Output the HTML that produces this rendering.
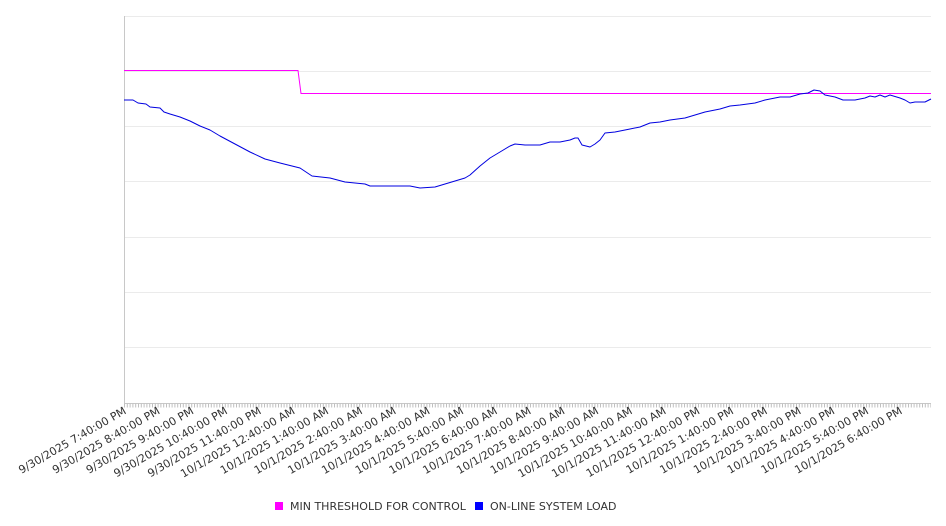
<!DOCTYPE html>
<html><head><meta charset="utf-8"><style>
html,body{margin:0;padding:0;background:#fff;}
svg{display:block;font-family:"DejaVu Sans","Liberation Sans",sans-serif;}
</style></head><body>
<svg width="946" height="526" viewBox="0 0 946 526" xmlns="http://www.w3.org/2000/svg">
<g stroke="#ebebeb" stroke-width="1">
<line x1="124" y1="16.5" x2="931" y2="16.5"/>
<line x1="124" y1="71.5" x2="931" y2="71.5"/>
<line x1="124" y1="126.5" x2="931" y2="126.5"/>
<line x1="124" y1="181.5" x2="931" y2="181.5"/>
<line x1="124" y1="237.5" x2="931" y2="237.5"/>
<line x1="124" y1="292.5" x2="931" y2="292.5"/>
<line x1="124" y1="347.5" x2="931" y2="347.5"/>
</g>
<line x1="124.5" y1="16" x2="124.5" y2="404" stroke="#c8c8c8"/>
<line x1="124" y1="403.5" x2="931" y2="403.5" stroke="#c8c8c8"/>
<line x1="124" y1="405.5" x2="931" y2="405.5" stroke="#c0c0c0" stroke-width="4" stroke-dasharray="1 1.8"/>
<polyline fill="none" stroke="#ff00ff" stroke-width="1" points="124,70.5 298,70.5 301,93.5 931,93.5"/>
<polyline fill="none" stroke="#0000e0" stroke-width="1" stroke-linejoin="round" points="124,100 133,100 138,103 146,104 150,107 160,108 164,112 170,114 180,117 190,121 200,126 210,130 220,136 235,144 250,152 265,159 280,163 300,168 312,176 330,178 345,182 365,184 370,186 390,186 410,186 420,188 435,187 445,184 455,181 465,178 470,175 480,166 490,158 500,152 510,146 515,144 525,145 540,145 550,142 560,142 570,140 575,138 578,138 582,145 590,147 595,144 600,140 605,133 615,132 630,129 640,127 650,123 660,122 670,120 685,118 695,115 705,112 720,109 730,106 740,105 755,103 765,100 780,97 790,97 800,94 808,93 814,90 820,91 825,95 835,97 843,100 855,100 865,98 870,96 875,97 880,95 885,97 890,95 900,98 905,100 910,103 915,102 925,102 931,99"/>
<g font-size="11" fill="#333" text-anchor="end">
<text transform="translate(127,413) rotate(-30)">9/30/2025 7:40:00 PM</text>
<text transform="translate(160.7,413) rotate(-30)">9/30/2025 8:40:00 PM</text>
<text transform="translate(194.5,413) rotate(-30)">9/30/2025 9:40:00 PM</text>
<text transform="translate(228.2,413) rotate(-30)">9/30/2025 10:40:00 PM</text>
<text transform="translate(262,413) rotate(-30)">9/30/2025 11:40:00 PM</text>
<text transform="translate(295.7,413) rotate(-30)">10/1/2025 12:40:00 AM</text>
<text transform="translate(329.4,413) rotate(-30)">10/1/2025 1:40:00 AM</text>
<text transform="translate(363.2,413) rotate(-30)">10/1/2025 2:40:00 AM</text>
<text transform="translate(396.9,413) rotate(-30)">10/1/2025 3:40:00 AM</text>
<text transform="translate(430.7,413) rotate(-30)">10/1/2025 4:40:00 AM</text>
<text transform="translate(464.4,413) rotate(-30)">10/1/2025 5:40:00 AM</text>
<text transform="translate(498.1,413) rotate(-30)">10/1/2025 6:40:00 AM</text>
<text transform="translate(531.9,413) rotate(-30)">10/1/2025 7:40:00 AM</text>
<text transform="translate(565.6,413) rotate(-30)">10/1/2025 8:40:00 AM</text>
<text transform="translate(599.4,413) rotate(-30)">10/1/2025 9:40:00 AM</text>
<text transform="translate(633.1,413) rotate(-30)">10/1/2025 10:40:00 AM</text>
<text transform="translate(666.8,413) rotate(-30)">10/1/2025 11:40:00 AM</text>
<text transform="translate(700.6,413) rotate(-30)">10/1/2025 12:40:00 PM</text>
<text transform="translate(734.3,413) rotate(-30)">10/1/2025 1:40:00 PM</text>
<text transform="translate(768.1,413) rotate(-30)">10/1/2025 2:40:00 PM</text>
<text transform="translate(801.8,413) rotate(-30)">10/1/2025 3:40:00 PM</text>
<text transform="translate(835.5,413) rotate(-30)">10/1/2025 4:40:00 PM</text>
<text transform="translate(869.3,413) rotate(-30)">10/1/2025 5:40:00 PM</text>
<text transform="translate(903,413) rotate(-30)">10/1/2025 6:40:00 PM</text>
</g>
<rect x="275" y="502" width="8" height="8" fill="#ff00ff"/>
<text x="290" y="510" font-size="11" fill="#333">MIN THRESHOLD FOR CONTROL</text>
<rect x="475" y="502" width="8" height="8" fill="#0000ff"/>
<text x="490" y="510" font-size="11" fill="#333">ON-LINE SYSTEM LOAD</text>
</svg>
</body></html>
